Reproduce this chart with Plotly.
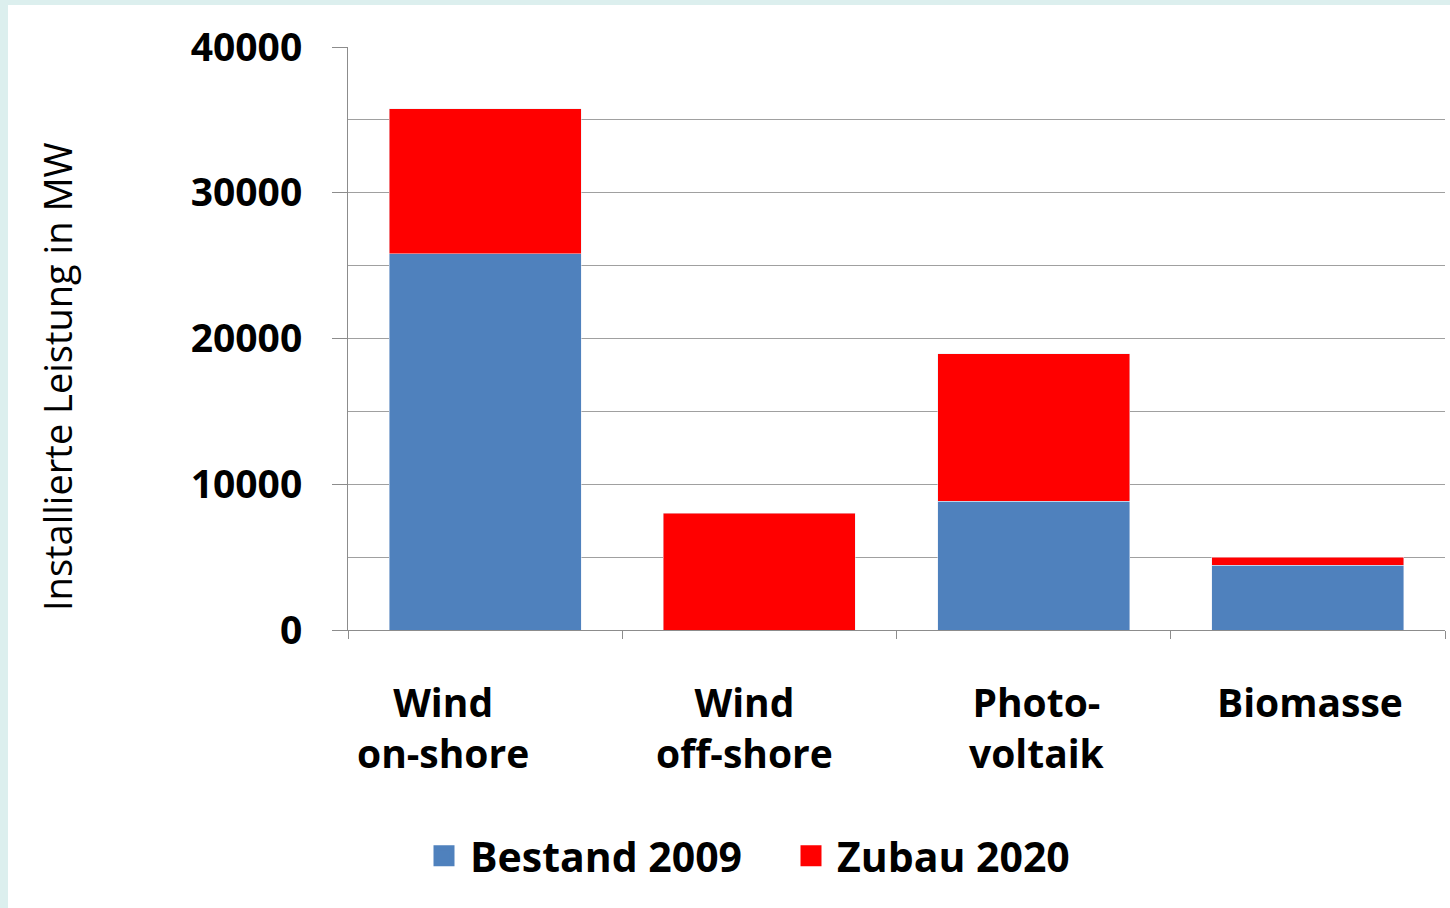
import plotly.graph_objects as go

categories = ["Wind<br>on-shore", "Wind<br>off-shore", "Photo-<br>voltaik", "Biomasse"]
bestand_2009 = [25800, 0, 8850, 4450]
zubau_2020 = [9950, 8000, 10100, 550]
series_names = ["Bestand 2009", "Zubau 2020"]
y_tick_values = [0, 10000, 20000, 30000, 40000]
y_tick_labels = ["0", "10000", "20000", "30000", "40000"]
y_title = "Installierte Leistung in MW"

BLUE = "#4f81bd"
RED = "#ff0000"
GRID = "#a0a0a0"
AXIS = "#8c8c8c"
FONT = "Open Sans"

fig = go.Figure()
fig.add_bar(x=categories, y=bestand_2009, name=series_names[0], marker_color=BLUE,
            showlegend=False, legendgroup="a")
fig.add_bar(x=categories, y=zubau_2020, name=series_names[1], marker_color=RED,
            showlegend=False, legendgroup="b")
# legend entries (large square swatches)
for nm, col, grp in [(series_names[0], BLUE, "a"), (series_names[1], RED, "b")]:
    fig.add_scatter(x=[None], y=[None], mode="markers", name=nm, legendgroup=grp,
                    marker=dict(symbol="square", size=16, color=col,
                                line=dict(color=col, width=5)))

W, H = 1450, 908
L, R, T, B = 348, 5, 47, 278
pw, ph = W - L - R, H - T - B

def px_x(px):
    return (px - L) / pw

def px_y(py):
    return (H - B - py) / ph

BORDER = "#dcefee"
shapes = [
    dict(type="rect", xref="paper", yref="paper", x0=px_x(0), x1=px_x(8),
         y0=px_y(H), y1=px_y(0), fillcolor=BORDER, line_width=0, layer="below"),
    dict(type="rect", xref="paper", yref="paper", x0=px_x(0), x1=px_x(W),
         y0=px_y(5), y1=px_y(0), fillcolor=BORDER, line_width=0, layer="below"),
]

label_shift = [-42, -15, 3, 2]
annotations = [
    dict(x=c, y=px_y(673), xref="x", yref="paper", text=c, showarrow=False,
         xanchor="center", yanchor="top", xshift=s,
         font=dict(family=FONT, size=39, weight=700, color="black"))
    for c, s in zip(categories, label_shift)
]
annotations.append(dict(x=px_x(57), y=px_y(376), xref="paper", yref="paper", text=y_title,
                        textangle=-90, showarrow=False, xanchor="center", yanchor="middle",
                        font=dict(family=FONT, size=38, color="black")))

fig.update_layout(
    width=W, height=H,
    margin=dict(l=L, r=R, t=T, b=B, pad=0),
    barmode="stack", bargap=0.3,
    paper_bgcolor="white", plot_bgcolor="white",
    font=dict(family=FONT, color="black"),
    shapes=shapes,
    annotations=annotations,
    legend=dict(orientation="h", x=px_x(785), xanchor="center", y=px_y(856), yanchor="middle",
                font=dict(family=FONT, size=41, weight=700, color="black"),
                entrywidth=310, entrywidthmode="pixels", itemwidth=42,
                itemclick=False, bgcolor="rgba(0,0,0,0)"),
    xaxis=dict(showline=True, linecolor=AXIS, linewidth=1, ticks="outside",
               tickson="boundaries", ticklen=8, tickcolor=AXIS,
               showticklabels=False, showgrid=False),
    yaxis=dict(range=[0, 40000], tickvals=y_tick_values, ticktext=y_tick_labels,
               showgrid=True, gridcolor=GRID, gridwidth=1,
               minor=dict(dtick=5000, showgrid=True, gridcolor=GRID, gridwidth=1, ticks=""),
               showline=True, linecolor=AXIS, linewidth=1, ticks="outside", ticklen=15,
               tickcolor=AXIS, zeroline=False,
               tickfont=dict(family=FONT, size=39, weight=700, color="black"),
               ticklabelstandoff=22),
)

fig.write_html("out.html")
